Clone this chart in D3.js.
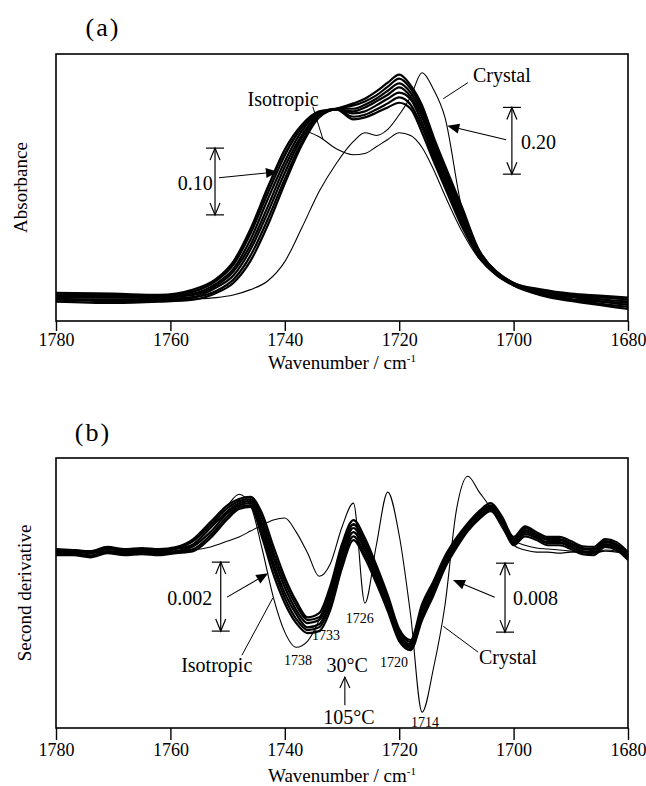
<!DOCTYPE html>
<html>
<head>
<meta charset="utf-8">
<script src="https://cdn.jsdelivr.net/npm/d3@7"></script>
<style>
    body { margin: 0; background: #fff; }
    svg { display: block; }
</style>
</head>
<body>
<svg id="chart" width="646" height="786"></svg>
<script>
// C=O stretching band: (a) absorbance, (b) second derivative
// runs 1..7 are the spectra between 30 and 105 °C, plus isotropic melt and crystal

// ---- (a) absorbance, units of 1e-3 ----
const wnA = [1780, 1770, 1762, 1756, 1752, 1749, 1746, 1743, 1740, 1737, 1734, 1731, 1728, 1726,
    1724, 1722, 1720, 1718, 1716, 1714, 1712, 1709, 1706, 1703, 1700, 1695, 1690, 1685, 1680];

const absRun1 = [42, 41, 39, 47, 63, 89, 138, 200, 257, 294, 314, 318, 326, 333, 344, 357, 369, 353, 323, 276, 233, 170, 105, 74, 57, 47, 41, 38, 35];
const absRun2 = [41, 39, 38, 44, 60, 84, 131, 191, 248, 290, 312, 318, 323, 329, 338, 351, 363, 348, 317, 270, 227, 165, 104, 74, 57, 45, 39, 36, 32];
const absRun3 = [38, 36, 36, 41, 56, 78, 122, 182, 239, 285, 311, 318, 318, 324, 333, 345, 356, 342, 311, 264, 221, 161, 102, 72, 56, 44, 38, 33, 29];
const absRun4 = [36, 35, 35, 39, 53, 74, 114, 171, 231, 279, 309, 317, 314, 320, 329, 339, 350, 336, 305, 258, 216, 155, 101, 72, 56, 42, 36, 30, 27];
const absRun5 = [33, 32, 33, 36, 50, 68, 107, 162, 222, 275, 308, 317, 311, 314, 323, 333, 342, 332, 297, 252, 210, 150, 98, 71, 54, 41, 33, 29, 24];
const absRun6 = [32, 30, 30, 35, 45, 62, 98, 152, 213, 269, 306, 317, 306, 309, 317, 326, 335, 324, 290, 246, 204, 146, 96, 69, 54, 39, 32, 26, 21];
const absRun7 = [29, 27, 29, 32, 42, 57, 90, 143, 206, 264, 305, 317, 302, 305, 312, 320, 327, 318, 282, 240, 200, 141, 95, 69, 53, 38, 30, 24, 18];
const absIsotropic = [39, 38, 38, 45, 62, 87, 135, 197, 252, 285, 276, 258, 249, 251, 261, 272, 282, 278, 260, 227, 188, 134, 93, 71, 56, 42, 36, 32, 29];
const absCrystal = [33, 32, 32, 33, 35, 39, 47, 60, 89, 140, 194, 236, 269, 282, 278, 287, 309, 336, 372, 347, 305, 167, 107, 74, 56, 44, 38, 35, 32];

// ---- (b) second derivative, units of 1e-5 ----
const wnB = [1780, 1777, 1774, 1771, 1768, 1765, 1762, 1759, 1756, 1753, 1750, 1748, 1746, 1744, 1742, 1740,
    1738, 1736, 1734, 1732, 1730, 1728, 1726, 1724, 1722, 1720, 1718, 1716, 1714, 1712, 1710, 1708,
    1706, 1704, 1702, 1700, 1698, 1696, 1694, 1692, 1690, 1688, 1686, 1684, 1682, 1680];

const d2Run1 = [9, 6, 3, 15, 9, 12, 9, 15, 38, 87, 136, 154, 160, 113, 17, -73, -142, -189, -177, -96, 23, 93, 41, -38, -125, -223, -255, -151, -84, -12, 41, 84, 119, 142, 102, 44, 75, 58, 44, 44, 32, 17, 15, 38, 29, 0];
const d2Run2 = [6, 6, 0, 12, 6, 9, 6, 12, 32, 78, 128, 148, 154, 99, 0, -87, -154, -197, -189, -110, 9, 81, 29, -49, -133, -229, -261, -160, -93, -17, 35, 78, 113, 136, 96, 38, 70, 52, 38, 38, 26, 12, 9, 32, 23, -6];
const d2Run3 = [3, 3, -3, 9, 3, 6, 3, 9, 23, 70, 119, 142, 148, 84, -15, -102, -168, -206, -197, -125, -6, 70, 17, -58, -142, -238, -267, -168, -102, -26, 29, 75, 110, 133, 93, 35, 64, 49, 35, 35, 23, 9, 6, 29, 20, -9];
const d2Run4 = [-3, -3, -9, 3, -3, 0, -3, 3, 17, 58, 113, 136, 142, 73, -32, -119, -180, -218, -209, -136, -17, 58, 6, -70, -154, -244, -273, -180, -107, -32, 23, 70, 104, 128, 87, 29, 58, 44, 29, 29, 17, 3, 0, 23, 15, -15];
const d2Run5 = [-6, -6, -12, 0, -6, -3, -6, 0, 9, 49, 104, 131, 136, 58, -46, -133, -194, -226, -218, -151, -32, 46, -6, -78, -162, -252, -278, -189, -116, -41, 17, 67, 102, 125, 84, 26, 52, 41, 26, 26, 15, 0, -3, 20, 12, -17];
const d2Run6 = [-9, -9, -15, -3, -9, -6, -9, -3, 3, 41, 96, 125, 131, 44, -64, -148, -206, -235, -229, -165, -46, 35, -17, -90, -171, -258, -284, -197, -125, -46, 12, 61, 96, 119, 78, 20, 46, 35, 20, 20, 9, -6, -9, 15, 6, -23];
const d2Isotropic = [0, 0, -3, 3, 0, 3, 0, 9, 35, 84, 136, 168, 136, 12, -131, -232, -276, -258, -197, -110, 0, 78, 29, -55, -145, -238, -278, -186, -110, -32, 23, 70, 102, 119, 87, 35, 20, 12, 9, 6, 3, 0, -3, 6, 3, -9];
const d2Crystal = [0, 0, 0, 0, 0, 0, 0, 3, 6, 15, 32, 44, 61, 78, 93, 99, 58, -3, -70, -32, 73, 142, -148, 20, 174, 49, -183, -464, -336, -154, 122, 220, 174, 128, 70, 20, 6, 0, 0, -3, 0, 0, -3, 3, 0, -6];

const ticksX = [1780, 1760, 1740, 1720, 1700, 1680];
const peakLabels = ["1738", "1733", "1726", "1720", "1714"];
const peakAt = [1737.7, 1732.8, 1726.9, 1720.9, 1715.5];
const peakLabelY = [-328, -255, -206, -334, -508];

const serif = '"Liberation Serif", "Times New Roman", Times, serif';
const svg = d3.select("#chart");

const x = d3.scaleLinear().domain([1780, 1680]).range([56, 628]);
const yA = d3.scaleLinear().domain([0, 400]).range([321, 54]);
const yB = d3.scaleLinear().domain([-510, 273]).range([728, 458]);

function frame(y, tickLen, pad, yTitle, yName, nameX) {
    const [y0, y1] = y.range();
    svg.append("rect")
        .attr("x", x(1780)).attr("y", y1)
        .attr("width", x(1680) - x(1780)).attr("height", y0 - y1)
        .attr("fill", "none").attr("stroke", "#000").attr("stroke-width", 1.6);

    svg.append("g")
        .attr("transform", `translate(0,${y0})`)
        .call(d3.axisBottom(x).tickValues(ticksX).tickSize(tickLen).tickPadding(pad).tickFormat(d3.format("d")))
        .attr("font-family", serif).attr("font-size", 18)
        .call(g => g.select(".domain").remove())
        .call(g => g.selectAll(".tick line").attr("stroke-width", 1.4));

    const t = svg.append("text")
        .attr("x", (x(1780) + x(1680)) / 2).attr("y", yTitle)
        .attr("text-anchor", "middle")
        .attr("font-family", serif).attr("font-size", 19)
        .text("Wavenumber / cm");
    t.append("tspan").attr("font-size", 11).attr("dy", -7).text("-1");

    svg.append("text")
        .attr("transform", `translate(${nameX},${(y0 + y1) / 2}) rotate(-90)`)
        .attr("text-anchor", "middle").attr("dominant-baseline", "central")
        .attr("font-family", serif).attr("font-size", 19)
        .text(yName);
}

function spectrum(y, wn, values, width) {
    const line = d3.line()
        .x((d, i) => x(wn[i]))
        .y(d => y(d))
        .curve(d3.curveMonotoneX);
    svg.append("path")
        .attr("d", line(values))
        .attr("fill", "none").attr("stroke", "#000")
        .attr("stroke-width", width).attr("stroke-linejoin", "round");
}

function scaleBar(y, w, v0, v1) {
    const cx = x(w), top = y(v1), bot = y(v0);
    const g = svg.append("g").attr("stroke", "#000").attr("stroke-width", 1.2).attr("fill", "none");
    g.append("line").attr("x1", cx).attr("x2", cx).attr("y1", top).attr("y2", bot);
    g.append("line").attr("x1", cx - 9).attr("x2", cx + 9).attr("y1", top).attr("y2", top);
    g.append("line").attr("x1", cx - 9).attr("x2", cx + 9).attr("y1", bot).attr("y2", bot);
    g.append("path").attr("d", `M${cx - 5},${top + 12}L${cx},${top}L${cx + 5},${top + 12}`);
    g.append("path").attr("d", `M${cx - 5},${bot - 12}L${cx},${bot}L${cx + 5},${bot - 12}`);
}

function pointer(y, from, to) {
    const x1 = x(from[0]), y1 = y(from[1]), x2 = x(to[0]), y2 = y(to[1]);
    const a = Math.atan2(y2 - y1, x2 - x1);
    const L = 12, H = 5;
    const bx = x2 - L * Math.cos(a), by = y2 - L * Math.sin(a);
    svg.append("line")
        .attr("x1", x1).attr("y1", y1).attr("x2", bx).attr("y2", by)
        .attr("stroke", "#000").attr("stroke-width", 1.1);
    svg.append("path")
        .attr("d", `M${x2},${y2}L${bx - H * Math.sin(a)},${by + H * Math.cos(a)}L${bx + H * Math.sin(a)},${by - H * Math.cos(a)}Z`)
        .attr("fill", "#000");
}

function leader(y, from, to) {
    svg.append("line")
        .attr("x1", x(from[0])).attr("y1", y(from[1]))
        .attr("x2", x(to[0])).attr("y2", y(to[1]))
        .attr("stroke", "#000").attr("stroke-width", 1);
}

function label(y, w, v, text, anchor, size) {
    return svg.append("text")
        .attr("x", x(w)).attr("y", y(v))
        .attr("text-anchor", anchor)
        .attr("font-family", serif).attr("font-size", size)
        .text(text);
}

// panel letters
svg.append("text").attr("x", 103).attr("y", 36).attr("text-anchor", "middle")
    .attr("font-family", serif).attr("font-size", 26).attr("letter-spacing", 2).text("(a)");
svg.append("text").attr("x", 93).attr("y", 441).attr("text-anchor", "middle")
    .attr("font-family", serif).attr("font-size", 26).attr("letter-spacing", 2).text("(b)");

// ---- panel (a) ----
frame(yA, 10, 2, 369, "Absorbance", 20);
[absRun1, absRun2, absRun3, absRun4, absRun5, absRun6, absRun7]
    .forEach(s => spectrum(yA, wnA, s, 2.2));
spectrum(yA, wnA, absIsotropic, 1.1);
spectrum(yA, wnA, absCrystal, 1.1);

label(yA, 1740.3, 322.5, "Isotropic", "middle", 20);
leader(yA, [1735.1, 321], [1733.3, 271.5]);
label(yA, 1707.1, 358.5, "Crystal", "start", 20);
leader(yA, [1708.0, 357], [1712.3, 333]);

scaleBar(yA, 1752.2, 159, 259);
label(yA, 1752.6, 197, "0.10", "end", 20);
pointer(yA, [1751.5, 214.5], [1741.2, 223.5]);

scaleBar(yA, 1700.3, 220, 320);
label(yA, 1698.7, 257, "0.20", "start", 20);
pointer(yA, [1701.3, 271.5], [1711.6, 292.5]);

// ---- panel (b) ----
frame(yB, 12, 3, 782, "Second derivative", 24);
[d2Run1, d2Run2, d2Run3, d2Run4, d2Run5, d2Run6]
    .forEach(s => spectrum(yB, wnB, s, 2.2));
spectrum(yB, wnB, d2Isotropic, 1.1);
spectrum(yB, wnB, d2Crystal, 1.1);

scaleBar(yB, 1751.2, -229, -29);
label(yB, 1752.7, -152, "0.002", "end", 20);
pointer(yB, [1750.1, -130.5], [1742.9, -61]);

scaleBar(yB, 1701.5, -232, -32);
label(yB, 1700.1, -152, "0.008", "start", 20);
pointer(yB, [1703.3, -130.5], [1710.6, -81]);

label(yB, 1751.9, -346.5, "Isotropic", "middle", 20);
leader(yB, [1747.5, -299], [1742.1, -133]);
label(yB, 1706.05, -323, "Crystal", "start", 20);
leader(yB, [1706.2, -290], [1712.3, -215]);

peakLabels.forEach((t, i) => label(yB, peakAt[i], peakLabelY[i], t, "middle", 14));

label(yB, 1729.1, -346.5, "30°C", "middle", 20);
label(yB, 1728.8, -497, "105°C", "middle", 20);
svg.append("line")
    .attr("x1", x(1729.5)).attr("x2", x(1729.5))
    .attr("y1", yB(-444)).attr("y2", yB(-362))
    .attr("stroke", "#000").attr("stroke-width", 1.1);
svg.append("path")
    .attr("d", `M${x(1729.5) - 5},${yB(-362) + 11}L${x(1729.5)},${yB(-362)}L${x(1729.5) + 5},${yB(-362) + 11}`)
    .attr("fill", "none").attr("stroke", "#000").attr("stroke-width", 1.1);
</script>
</body>
</html>
